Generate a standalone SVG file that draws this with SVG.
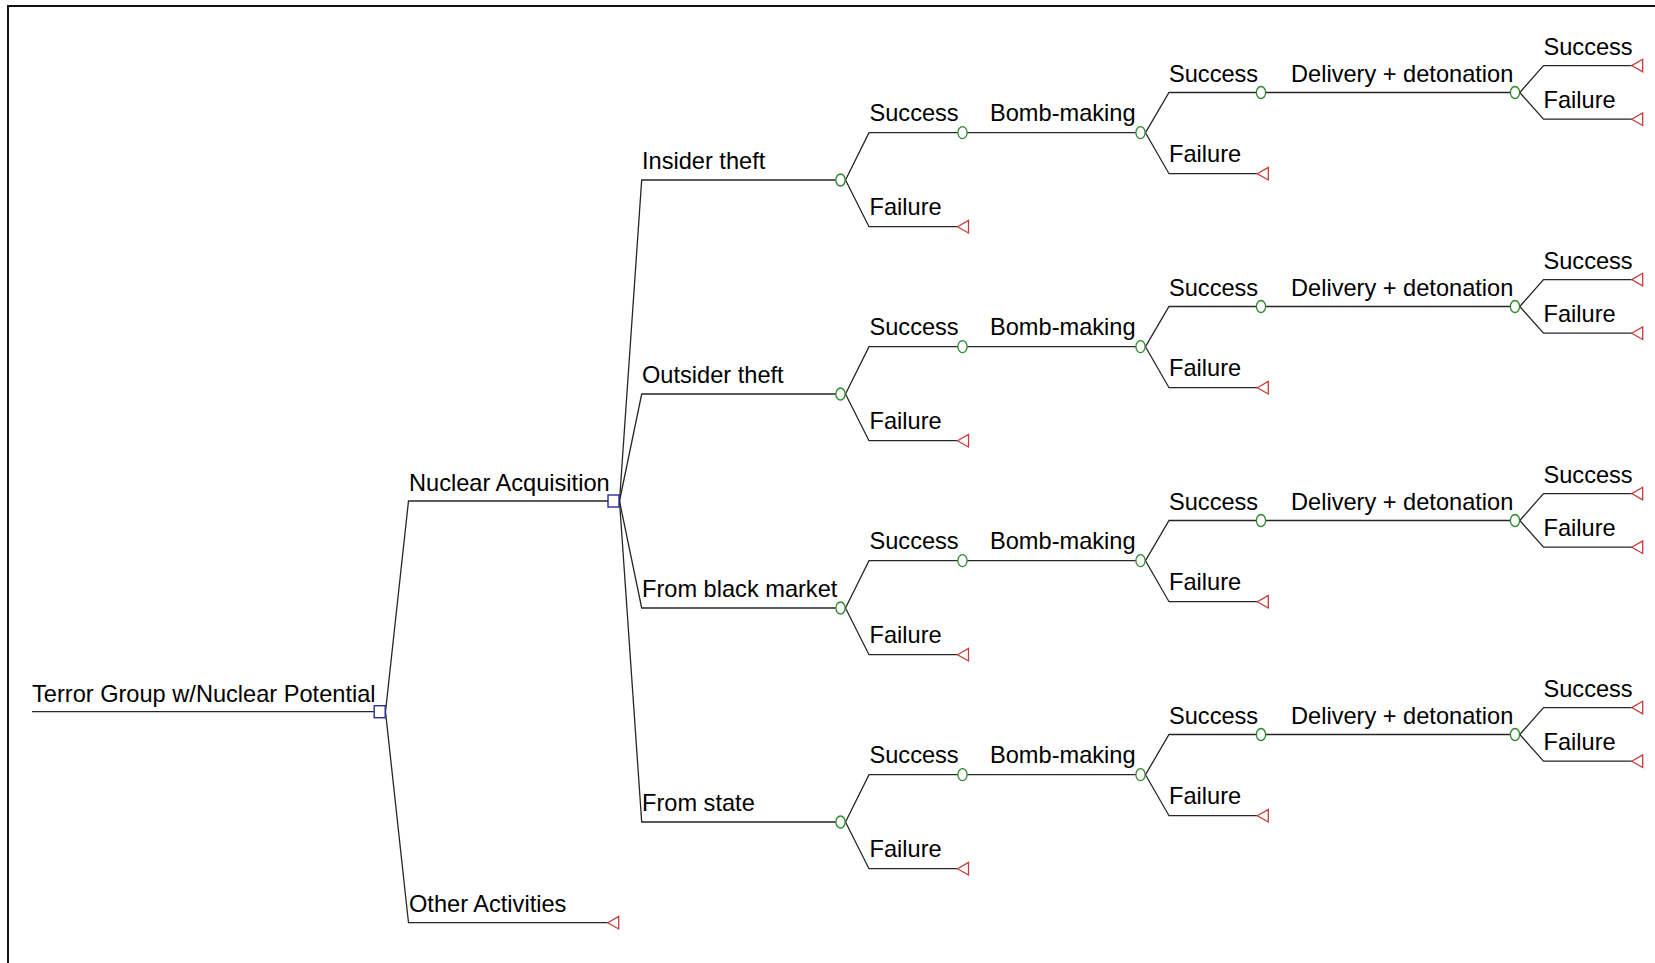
<svg xmlns="http://www.w3.org/2000/svg" width="1655" height="963" viewBox="0 0 1655 963">
  <style>
    .ln { fill: none; stroke: #262626; stroke-width: 1.3; }
    .frame { fill: none; stroke: #111; stroke-width: 2; }
    .lbl { font-family: "Liberation Sans", Arial, sans-serif; font-size: 23.6px; fill: #000; }
    .chance { fill: #fff; stroke: #2f8a2f; stroke-width: 1.3; }
    .term { fill: #fff; stroke: #c83a3a; stroke-width: 1.3; }
    .dec { fill: #fff; stroke: #2a2aa0; stroke-width: 1.4; }
  </style>
  <defs>
    <!-- chance node: small ellipse; terminal: left-pointing triangle (tip at origin); decision: square -->
    <ellipse id="chance" class="chance" cx="0" cy="0" rx="4.6" ry="6"/>
    <polygon id="term" class="term" points="0,0 11,-6.3 11,6.3"/>
    <rect id="dec" class="dec" x="-5.5" y="-6" width="11" height="12"/>
  </defs>

  <rect width="1655" height="963" fill="#fff"/>
  <path class="frame" d="M8 963 L8 6 L1655 6"/>

  <!-- branches -->
  <g id="connectors" class="ln">
    <path d="M32 711.7 L374 711.7"/>
    <path d="M385.5 711.7 L408.5 501 L608 501"/>
    <path d="M385.5 711.7 L408.5 922.7 L607.7 922.7"/>

    <!-- insider theft -->
    <path d="M619.5 501 L641.7 180 L835.9 180"/>
    <path d="M845.5 180 L869 132.7 L957.9 132.7"/>
    <path d="M845.5 180 L869 226.7 L957.5 226.7"/>
    <path d="M967.1 132.7 L1135.9 132.7"/>
    <path d="M1145.5 132.7 L1169 92.5 L1256.4 92.5"/>
    <path d="M1145.5 132.7 L1169 173.7 L1257.3 173.7"/>
    <path d="M1265.6 92.5 L1510.4 92.5"/>
    <path d="M1519.8 92.5 L1543.5 65.6 L1631.7 65.6"/>
    <path d="M1519.8 92.5 L1543.5 119.2 L1631.7 119.2"/>

    <!-- outsider theft -->
    <path d="M619.5 501 L641.7 394 L835.9 394"/>
    <path d="M845.5 394 L869 346.7 L957.9 346.7"/>
    <path d="M845.5 394 L869 440.7 L957.5 440.7"/>
    <path d="M967.1 346.7 L1135.9 346.7"/>
    <path d="M1145.5 346.7 L1169 306.5 L1256.4 306.5"/>
    <path d="M1145.5 346.7 L1169 387.7 L1257.3 387.7"/>
    <path d="M1265.6 306.5 L1510.4 306.5"/>
    <path d="M1519.8 306.5 L1543.5 279.6 L1631.7 279.6"/>
    <path d="M1519.8 306.5 L1543.5 333.2 L1631.7 333.2"/>

    <!-- black market -->
    <path d="M619.5 501 L641.7 608 L835.9 608"/>
    <path d="M845.5 608 L869 560.7 L957.9 560.7"/>
    <path d="M845.5 608 L869 654.7 L957.5 654.7"/>
    <path d="M967.1 560.7 L1135.9 560.7"/>
    <path d="M1145.5 560.7 L1169 520.5 L1256.4 520.5"/>
    <path d="M1145.5 560.7 L1169 601.7 L1257.3 601.7"/>
    <path d="M1265.6 520.5 L1510.4 520.5"/>
    <path d="M1519.8 520.5 L1543.5 493.6 L1631.7 493.6"/>
    <path d="M1519.8 520.5 L1543.5 547.2 L1631.7 547.2"/>

    <!-- from state -->
    <path d="M619.5 501 L641.7 822 L835.9 822"/>
    <path d="M845.5 822 L869 774.7 L957.9 774.7"/>
    <path d="M845.5 822 L869 868.7 L957.5 868.7"/>
    <path d="M967.1 774.7 L1135.9 774.7"/>
    <path d="M1145.5 774.7 L1169 734.5 L1256.4 734.5"/>
    <path d="M1145.5 774.7 L1169 815.7 L1257.3 815.7"/>
    <path d="M1265.6 734.5 L1510.4 734.5"/>
    <path d="M1519.8 734.5 L1543.5 707.6 L1631.7 707.6"/>
    <path d="M1519.8 734.5 L1543.5 761.2 L1631.7 761.2"/>
  </g>

  <!-- root and first decision -->
  <g id="root">
    <text class="lbl" x="32" y="701.7">Terror Group w/Nuclear Potential</text>
    <use href="#dec" x="379.7" y="711.7"/>
  </g>
  <g id="nuclear-acquisition">
    <text class="lbl" x="409" y="491">Nuclear Acquisition</text>
    <use href="#dec" x="613.5" y="501"/>
  </g>
  <g id="other-activities">
    <text class="lbl" x="409" y="912.3">Other Activities</text>
    <use href="#term" x="607.7" y="922.7"/>
  </g>

  <!-- insider theft -->
  <g id="insider-theft">
    <text class="lbl" x="642" y="169">Insider theft</text>
    <use href="#chance" x="840.5" y="180"/>
  </g>
  <g id="insider-acq-success">
    <text class="lbl" x="869.5" y="121.2">Success</text>
    <use href="#chance" x="962.5" y="132.7"/>
  </g>
  <g id="insider-acq-failure">
    <text class="lbl" x="869.5" y="215">Failure</text>
    <use href="#term" x="957.5" y="226.7"/>
  </g>
  <g id="insider-bomb">
    <text class="lbl" x="990" y="121.2">Bomb-making</text>
    <use href="#chance" x="1140.5" y="132.7"/>
  </g>
  <g id="insider-bomb-success">
    <text class="lbl" x="1169" y="81.7">Success</text>
    <use href="#chance" x="1261" y="92.5"/>
  </g>
  <g id="insider-bomb-failure">
    <text class="lbl" x="1169" y="162">Failure</text>
    <use href="#term" x="1257.3" y="173.7"/>
  </g>
  <g id="insider-delivery">
    <text class="lbl" x="1291" y="81.7">Delivery + detonation</text>
    <use href="#chance" x="1515" y="92.5"/>
  </g>
  <g id="insider-delivery-success">
    <text class="lbl" x="1543.5" y="55">Success</text>
    <use href="#term" x="1631.7" y="65.6"/>
  </g>
  <g id="insider-delivery-failure">
    <text class="lbl" x="1543.5" y="108.2">Failure</text>
    <use href="#term" x="1631.7" y="119.2"/>
  </g>

  <!-- outsider theft -->
  <g id="outsider-theft">
    <text class="lbl" x="642" y="383">Outsider theft</text>
    <use href="#chance" x="840.5" y="394"/>
  </g>
  <g id="outsider-acq-success">
    <text class="lbl" x="869.5" y="335.2">Success</text>
    <use href="#chance" x="962.5" y="346.7"/>
  </g>
  <g id="outsider-acq-failure">
    <text class="lbl" x="869.5" y="429">Failure</text>
    <use href="#term" x="957.5" y="440.7"/>
  </g>
  <g id="outsider-bomb">
    <text class="lbl" x="990" y="335.2">Bomb-making</text>
    <use href="#chance" x="1140.5" y="346.7"/>
  </g>
  <g id="outsider-bomb-success">
    <text class="lbl" x="1169" y="295.7">Success</text>
    <use href="#chance" x="1261" y="306.5"/>
  </g>
  <g id="outsider-bomb-failure">
    <text class="lbl" x="1169" y="376">Failure</text>
    <use href="#term" x="1257.3" y="387.7"/>
  </g>
  <g id="outsider-delivery">
    <text class="lbl" x="1291" y="295.7">Delivery + detonation</text>
    <use href="#chance" x="1515" y="306.5"/>
  </g>
  <g id="outsider-delivery-success">
    <text class="lbl" x="1543.5" y="269">Success</text>
    <use href="#term" x="1631.7" y="279.6"/>
  </g>
  <g id="outsider-delivery-failure">
    <text class="lbl" x="1543.5" y="322.2">Failure</text>
    <use href="#term" x="1631.7" y="333.2"/>
  </g>

  <!-- black market -->
  <g id="black-market">
    <text class="lbl" x="642" y="597">From black market</text>
    <use href="#chance" x="840.5" y="608"/>
  </g>
  <g id="market-acq-success">
    <text class="lbl" x="869.5" y="549.2">Success</text>
    <use href="#chance" x="962.5" y="560.7"/>
  </g>
  <g id="market-acq-failure">
    <text class="lbl" x="869.5" y="643">Failure</text>
    <use href="#term" x="957.5" y="654.7"/>
  </g>
  <g id="market-bomb">
    <text class="lbl" x="990" y="549.2">Bomb-making</text>
    <use href="#chance" x="1140.5" y="560.7"/>
  </g>
  <g id="market-bomb-success">
    <text class="lbl" x="1169" y="509.7">Success</text>
    <use href="#chance" x="1261" y="520.5"/>
  </g>
  <g id="market-bomb-failure">
    <text class="lbl" x="1169" y="590">Failure</text>
    <use href="#term" x="1257.3" y="601.7"/>
  </g>
  <g id="market-delivery">
    <text class="lbl" x="1291" y="509.7">Delivery + detonation</text>
    <use href="#chance" x="1515" y="520.5"/>
  </g>
  <g id="market-delivery-success">
    <text class="lbl" x="1543.5" y="483">Success</text>
    <use href="#term" x="1631.7" y="493.6"/>
  </g>
  <g id="market-delivery-failure">
    <text class="lbl" x="1543.5" y="536.2">Failure</text>
    <use href="#term" x="1631.7" y="547.2"/>
  </g>

  <!-- from state -->
  <g id="from-state">
    <text class="lbl" x="642" y="811">From state</text>
    <use href="#chance" x="840.5" y="822"/>
  </g>
  <g id="state-acq-success">
    <text class="lbl" x="869.5" y="763.2">Success</text>
    <use href="#chance" x="962.5" y="774.7"/>
  </g>
  <g id="state-acq-failure">
    <text class="lbl" x="869.5" y="857">Failure</text>
    <use href="#term" x="957.5" y="868.7"/>
  </g>
  <g id="state-bomb">
    <text class="lbl" x="990" y="763.2">Bomb-making</text>
    <use href="#chance" x="1140.5" y="774.7"/>
  </g>
  <g id="state-bomb-success">
    <text class="lbl" x="1169" y="723.7">Success</text>
    <use href="#chance" x="1261" y="734.5"/>
  </g>
  <g id="state-bomb-failure">
    <text class="lbl" x="1169" y="804">Failure</text>
    <use href="#term" x="1257.3" y="815.7"/>
  </g>
  <g id="state-delivery">
    <text class="lbl" x="1291" y="723.7">Delivery + detonation</text>
    <use href="#chance" x="1515" y="734.5"/>
  </g>
  <g id="state-delivery-success">
    <text class="lbl" x="1543.5" y="697">Success</text>
    <use href="#term" x="1631.7" y="707.6"/>
  </g>
  <g id="state-delivery-failure">
    <text class="lbl" x="1543.5" y="750.2">Failure</text>
    <use href="#term" x="1631.7" y="761.2"/>
  </g>
</svg>
